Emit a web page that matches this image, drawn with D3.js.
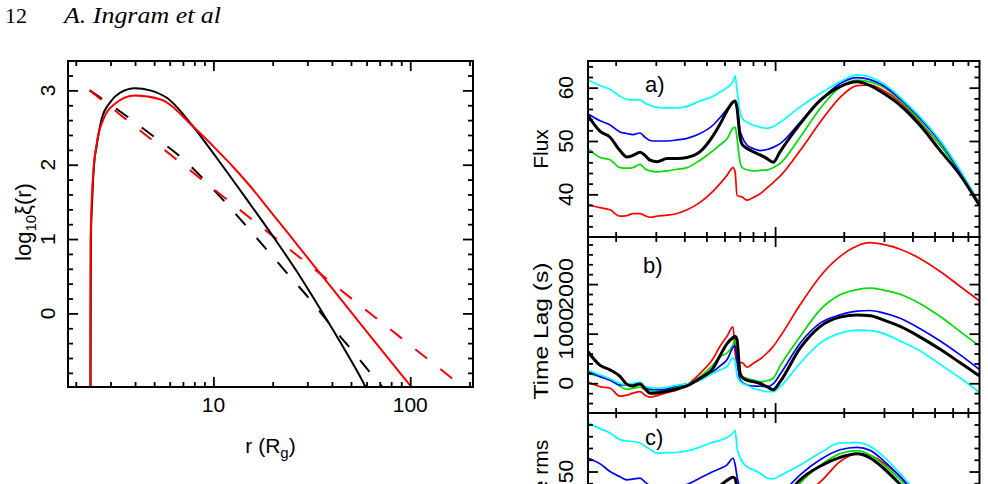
<!DOCTYPE html>
<html>
<head>
<meta charset="utf-8">
<script src="https://cdn.jsdelivr.net/npm/d3@7"></script>
<style>
  body { margin: 0; background: #fff; }
  svg { display: block; font-family: "Liberation Sans", Arial, sans-serif; }
  .serif { font-family: "Liberation Serif", "DejaVu Serif", serif; }
</style>
</head>
<body>
<div id="chart"></div>
<script>
// ---------- left panel: log10 xi(r) against r, [r, log xi] pairs
const solidBlack = [[2.376, -1.0], [2.380, 0.0], [2.385, 1.0], [2.42, 1.5], [2.475, 2.0], [2.55, 2.25], [2.71, 2.62],
    [2.99, 2.84], [3.36, 2.97], [4.00, 3.03], [4.77, 3.00], [5.80, 2.90], [7.91, 2.51], [10.4, 2.09], [14.8, 1.53],
    [21.8, 0.90], [26.6, 0.56], [32.2, 0.21], [39.2, -0.16], [47.7, -0.54], [59.0, -0.98], [62.0, -1.1]];
const solidRed = [[2.370, -1.0], [2.372, 0.0], [2.378, 1.0], [2.44, 1.8], [2.56, 2.3], [2.75, 2.6], [3.16, 2.82],
    [4.00, 2.93], [5.36, 2.88], [7.91, 2.51], [10.4, 2.20], [12.5, 1.98], [15.4, 1.71], [19.4, 1.38], [26.0, 0.96],
    [39.2, 0.37], [57.9, -0.19], [85.6, -0.75], [102, -1.0], [106, -1.06]];
const dashedBlack = [[2.35, 3.0], [3.77, 2.62], [4.48, 2.47], [6.91, 2.09], [10.9, 1.56], [16.9, 0.99], [24.6, 0.49],
    [31.6, 0.16], [40.0, -0.18], [51.5, -0.52], [65.0, -0.85], [72.8, -1.0]];
const dashedRed = [[2.35, 3.0], [25.5, 0.82], [200, -1.06]];

const leftXMajor = [10, 100];
const leftXMinor = [2, 3, 4, 5, 6, 7, 8, 9, 20, 30, 40, 50, 60, 70, 80, 90, 200];
const leftYLabels = [0, 1, 2, 3];

// ---------- right panels: shared energy grid
const energy = [0.151, 0.171, 0.189, 0.209, 0.224, 0.238, 0.256, 0.269, 0.283, 0.304, 0.336, 0.372, 0.411, 0.469,
    0.535, 0.574, 0.616, 0.654, 0.668, 0.681, 0.702, 0.717, 0.754, 0.801, 0.860, 0.922, 0.980, 1.052, 1.287, 1.575,
    1.928, 2.289, 2.610, 2.977, 3.534, 4.325, 5.293, 6.478, 7.848];

// a) flux
const fluxCyan = [61.5, 60.4, 59.7, 58.4, 57.8, 57.7, 57.7, 57.1, 56.7, 56.3, 56.2, 56.2, 56.5, 57.5, 58.4, 59.2, 60.0,
    61.2, 62.2, 59.5, 55.5, 54.3, 53.5, 53.0, 52.6, 52.4, 52.7, 53.5, 56.4, 58.9, 61.1, 62.4, 62.0, 60.8, 58.2, 54.5,
    50.1, 44.5, 38.4];
const fluxBlue = [55.1, 53.8, 53.0, 51.7, 51.4, 51.2, 51.5, 50.7, 50.1, 50.0, 50.0, 50.2, 50.5, 51.4, 53.0, 54.4, 56.0,
    57.2, 57.5, 56.4, 52.0, 50.8, 49.2, 48.6, 48.2, 48.4, 48.8, 49.5, 53.5, 57.6, 60.8, 61.9, 61.5, 60.4, 57.9, 54.2,
    49.8, 44.2, 38.3];
const fluxBlack = [54.8, 51.8, 50.7, 48.2, 47.0, 47.3, 47.9, 47.3, 46.4, 46.1, 46.7, 46.7, 46.9, 48.0, 51.0, 53.2, 55.7,
    57.3, 57.5, 56.2, 50.7, 49.4, 48.6, 48.0, 47.4, 46.7, 46.0, 48.0, 53.2, 57.6, 60.2, 61.1, 60.4, 59.0, 56.7, 52.9,
    48.2, 43.6, 38.0];
const fluxGreen = [48.6, 46.9, 46.5, 45.0, 44.9, 45.0, 45.6, 44.8, 44.4, 44.2, 44.4, 44.7, 45.0, 46.4, 48.2, 49.3, 50.4,
    52.4, 52.6, 50.5, 46.0, 45.0, 44.6, 44.4, 44.5, 44.6, 45.0, 45.8, 50.7, 56.1, 60.1, 61.4, 61.1, 60.1, 57.6, 53.7,
    49.2, 43.9, 38.2];
const fluxRed = [38.1, 37.5, 37.1, 35.9, 36.0, 36.4, 36.4, 36.0, 35.7, 35.9, 36.1, 36.4, 37.1, 38.5, 40.6, 42.0, 43.6,
    45.0, 44.2, 39.8, 39.6, 39.5, 38.9, 39.4, 40.1, 41.2, 42.2, 43.4, 48.2, 53.5, 58.2, 60.4, 60.5, 59.5, 57.3, 53.4,
    49.2, 44.2, 38.3];

// b) time lag (s)
const lagRed = [30, -70, -100, -260, -240, -200, -170, -240, -280, -250, -190, -135, -34, 200, 500, 750, 950, 1140, 600,
    420, 416, 416, 323, 400, 490, 610, 739, 941, 1582, 2154, 2558, 2770, 2835, 2800, 2704, 2513, 2255, 1952, 1665];
const lagGreen = [202, 133, 80, -60, -121, -100, -80, -125, -150, -170, -130, -80, -30, 133, 370, 537, 610, 774, 875,
    450, 200, 133, 100, 67, 32, 50, 101, 350, 941, 1481, 1784, 1890, 1919, 1880, 1795, 1604, 1345, 1042, 755];
const lagBlue = [235, 133, 60, -34, -34, -15, -10, -101, -120, -135, -110, -50, -14, 67, 235, 350, 478, 720, 760, 420,
    67, 20, -34, -55, -60, -69, -14, 180, 808, 1212, 1380, 1455, 1467, 1420, 1312, 1099, 851, 572, 280];
const lagCyan = [269, 168, 90, -5, -34, 0, 25, -69, -85, -101, -80, -40, -14, 67, 202, 270, 340, 505, 450, 150, 40, 0,
    -40, -101, -140, -170, -170, -69, 404, 808, 1010, 1070, 1063, 1005, 850, 650, 380, 105, -180];
const lagBlack = [640, 360, 270, 140, -20, -55, -14, -110, -202, -195, -160, -110, -55, 101, 303, 560, 800, 920, 941,
    875, 202, 120, 60, 32, -5, -70, -130, 32, 707, 1143, 1333, 1375, 1360, 1280, 1145, 931, 684, 412, 150];

// c) rms (only the top of this panel is on the page)
const rmsCyan = [91.4, 86.5, 82.8, 77.1, 76.0, 75.5, 74.3, 71.5, 69.0, 65.7, 66.0, 66.2, 67.5, 70.8, 75.0, 76.5, 79.0,
    82.8, 85.0, 70.0, 62.0, 58.5, 54.0, 51.5, 48.6, 44.5, 43.8, 46.5, 55.5, 65.7, 74.3, 74.6, 71.5, 63.1, 48.2, 28, 5,
    -20, -45];
const rmsBlue = [61.5, 56.5, 50.0, 45.5, 42.9, 43.5, 44.4, 41.0, 38, 36, 35, 36, 39, 44.5, 50.0, 52.5, 55.7, 61.3, 56,
    45.7, 36, 32, 28, 26, 25, 24, 25, 30, 47.2, 60.0, 68.5, 70.6, 68.0, 59.5, 45.5, 25, 2, -22, -45];
const rmsBlack = [30, 27, 25, 22, 20, 21, 21.5, 20, 19, 18.5, 19, 19.5, 21, 27, 35, 38, 42.5, 45.2, 44, 36, 28, 25, 22,
    19, 17, 15, 15, 22, 42.9, 54.5, 62, 65.1, 61.5, 53, 39, 20, -2, -25, -48];
const rmsGreen = [25, 22, 20, 17, 16, 16.5, 17, 15.5, 14.5, 14, 14.5, 15, 17, 21, 27, 31, 34, 37, 35, 22, 14, 11, 9, 8,
    8, 8, 10, 18, 40, 55, 65.2, 67.7, 64, 56, 43, 22, 0, -23, -46];
const rmsRed = [5, 3, 2, -2, -2, -1, -1, -2, -3, -3, -2, -1, 2, 7, 14, 18, 22, 25, 23, 12, 10, 9, 8, 10, 12, 15, 18, 22,
    30, 41, 58.5, 65.1, 63.8, 57.5, 46, 25, 3, -20, -44];

const rightXMajor = [1];
const rightXMinor = [0.2, 0.3, 0.4, 0.5, 0.6, 0.7, 0.8, 0.9, 2, 3, 4, 5, 6, 7];
const fluxLabels = [40, 50, 60];
const lagLabels = [0, 1000, 2000];
const rmsLabels = [0, 50];

const colours = {red: '#ff0000', green: '#00dd00', blue: '#0000ff', cyan: '#00ffff', black: '#000000'};

const W = 988, H = 484;
const svg = d3.select('#chart').append('svg')
    .attr('width', W)
    .attr('height', H);

// page header
svg.append('text')
    .attr('class', 'serif')
    .attr('x', 5).attr('y', 23)
    .style('font-size', '22px')
    .text('12');
svg.append('text')
    .attr('class', 'serif')
    .attr('x', 64).attr('y', 23)
    .style('font-size', '23px')
    .style('font-style', 'italic')
    .attr('textLength', 157)
    .attr('lengthAdjust', 'spacingAndGlyphs')
    .text('A. Ingram et al');

// draws inward ticks on one side of a box
function tickRow(g, axisFn, scale, values, len, tx, ty) {
    g.append('g')
        .attr('transform', `translate(${tx},${ty})`)
        .call(axisFn(scale).tickValues(values).tickSize(-len).tickFormat(''))
        .call(a => a.select('.domain').remove())
        .selectAll('line')
        .attr('stroke', '#000')
        .attr('stroke-width', 1.8);
}

// ================= LEFT PANEL =================
const L = {x0: 68, x1: 473, y0: 61, y1: 387};
const xL = d3.scaleLog().domain([1.825, 208.4]).range([L.x0, L.x1]);
const yL = d3.scaleLinear().domain([-0.99, 3.395]).range([L.y1, L.y0]);
const yLMinor = d3.range(-0.8, 3.3, 0.2).filter(v => Math.abs(v - Math.round(v)) > 0.01);

svg.append('clipPath').attr('id', 'clipL')
    .append('rect')
    .attr('x', L.x0).attr('y', L.y0)
    .attr('width', L.x1 - L.x0).attr('height', L.y1 - L.y0);

const lineL = d3.line()
    .x(d => xL(d[0]))
    .y(d => yL(d[1]))
    .curve(d3.curveMonotoneX);

const curvesL = svg.append('g').attr('clip-path', 'url(#clipL)');
[[dashedBlack, colours.black, true], [dashedRed, colours.red, true],
 [solidBlack, colours.black, false], [solidRed, colours.red, false]].forEach(([d, c, dashed]) => {
    curvesL.append('path')
        .datum(d)
        .attr('d', lineL)
        .attr('fill', 'none')
        .attr('stroke', c)
        .attr('stroke-width', 2)
        .attr('stroke-dasharray', dashed ? '15,17' : null);
});

const axL = svg.append('g');
tickRow(axL, d3.axisBottom, xL, leftXMajor, 10, 0, L.y1);
tickRow(axL, d3.axisBottom, xL, leftXMinor, 5, 0, L.y1);
tickRow(axL, d3.axisTop, xL, leftXMajor, 10, 0, L.y0);
tickRow(axL, d3.axisTop, xL, leftXMinor, 5, 0, L.y0);
tickRow(axL, d3.axisLeft, yL, leftYLabels, 10, L.x0, 0);
tickRow(axL, d3.axisLeft, yL, yLMinor, 5, L.x0, 0);
tickRow(axL, d3.axisRight, yL, leftYLabels, 10, L.x1, 0);
tickRow(axL, d3.axisRight, yL, yLMinor, 5, L.x1, 0);

svg.append('rect')
    .attr('x', L.x0).attr('y', L.y0)
    .attr('width', L.x1 - L.x0).attr('height', L.y1 - L.y0)
    .attr('fill', 'none')
    .attr('stroke', '#000')
    .attr('stroke-width', 2);

svg.selectAll('.xlabL')
    .data(leftXMajor)
    .join('text')
    .attr('x', d => xL(d))
    .attr('y', L.y1 + 25)
    .attr('text-anchor', 'middle')
    .style('font-size', '21px')
    .text(d => d);

svg.selectAll('.ylabL')
    .data(leftYLabels)
    .join('text')
    .attr('transform', d => `translate(55,${yL(d)}) rotate(-90)`)
    .attr('text-anchor', 'middle')
    .style('font-size', '21px')
    .text(d => d);

// axis titles
const xTitle = svg.append('text')
    .attr('x', (L.x0 + L.x1) / 2)
    .attr('y', 453)
    .attr('text-anchor', 'middle')
    .style('font-size', '21px');
xTitle.append('tspan').text('r (R');
xTitle.append('tspan').attr('dy', 5).style('font-size', '15px').text('g');
xTitle.append('tspan').attr('dy', -5).text(')');

const yTitle = svg.append('text')
    .attr('transform', `translate(31,${(L.y0 + L.y1) / 2 - 2}) rotate(-90)`)
    .attr('text-anchor', 'middle')
    .style('font-size', '22px');
yTitle.append('tspan').text('log');
yTitle.append('tspan').attr('dy', 5).style('font-size', '15px').text('10');
yTitle.append('tspan').attr('dy', -5).text('ξ(r)');

// ================= RIGHT PANELS =================
const R = {x0: 588, x1: 979.5};
const xR = d3.scaleLog().domain([0.1513, 7.87]).range([R.x0, R.x1]);

// the lag panel's rotated texts are drawn stretched along their length in the original
const panels = [
    {name: 'a)', title: 'Flux', y0: 61, y1: 237, domain: [32, 65], labels: fluxLabels, minorStep: 2,
        series: [fluxRed, fluxGreen, fluxBlue, fluxCyan, fluxBlack], letterX: 645, letterY: 92,
        titleShift: 0, titleLen: null, labelLen: null},
    {name: 'b)', title: 'Time Lag (s)', y0: 237, y1: 413, domain: [-600, 2950], labels: lagLabels, minorStep: 200,
        series: [lagRed, lagGreen, lagBlue, lagCyan, lagBlack], letterX: 643, letterY: 273,
        titleShift: 6, titleLen: 137, labelLen: 13},
    {name: 'c)', title: 'Absolute rms', y0: 413, y1: 589, domain: [-50, 99.8], labels: rmsLabels, minorStep: 10,
        series: [rmsRed, rmsGreen, rmsBlue, rmsCyan, rmsBlack], letterX: 645, letterY: 445,
        titleShift: 0, titleLen: null, labelLen: null},
];
const seriesColours = [colours.red, colours.green, colours.blue, colours.cyan, colours.black];

panels.forEach((p, i) => {
    const y = d3.scaleLinear().domain(p.domain).range([p.y1, p.y0]);
    const g = svg.append('g');

    g.append('clipPath').attr('id', 'clipR' + i)
        .append('rect')
        .attr('x', R.x0).attr('y', p.y0)
        .attr('width', R.x1 - R.x0).attr('height', p.y1 - p.y0);

    const line = d3.line()
        .x((d, j) => xR(energy[j]))
        .y(d => y(d))
        .curve(d3.curveMonotoneX);

    const curves = g.append('g').attr('clip-path', `url(#clipR${i})`);
    p.series.forEach((s, k) => {
        curves.append('path')
            .datum(s)
            .attr('d', line)
            .attr('fill', 'none')
            .attr('stroke', seriesColours[k])
            .attr('stroke-width', k === 4 ? 3 : 1.7)
            .attr('stroke-linejoin', 'round');
    });

    // ticks, all pointing into the box
    const minor = d3.range(p.domain[0], p.domain[1], p.minorStep)
        .map(v => Math.ceil(v / p.minorStep) * p.minorStep)
        .filter(v => v > p.domain[0] && v < p.domain[1] && !p.labels.includes(v));
    tickRow(g, d3.axisBottom, xR, rightXMajor, 10, 0, p.y1);
    tickRow(g, d3.axisBottom, xR, rightXMinor, 5, 0, p.y1);
    tickRow(g, d3.axisTop, xR, rightXMajor, 10, 0, p.y0);
    tickRow(g, d3.axisTop, xR, rightXMinor, 5, 0, p.y0);
    tickRow(g, d3.axisLeft, y, p.labels.filter(v => v > p.domain[0]), 10, R.x0, 0);
    tickRow(g, d3.axisLeft, y, minor, 5, R.x0, 0);
    tickRow(g, d3.axisRight, y, p.labels.filter(v => v > p.domain[0]), 10, R.x1, 0);
    tickRow(g, d3.axisRight, y, minor, 5, R.x1, 0);

    g.append('rect')
        .attr('x', R.x0).attr('y', p.y0)
        .attr('width', R.x1 - R.x0).attr('height', p.y1 - p.y0)
        .attr('fill', 'none')
        .attr('stroke', '#000')
        .attr('stroke-width', 2);

    const labs = g.selectAll('.ylab')
        .data(p.labels)
        .join('text')
        .attr('transform', d => `translate(573,${y(d)}) rotate(-90)`)
        .attr('text-anchor', 'middle')
        .style('font-size', '21px')
        .text(d => d);
    if (p.labelLen) {
        labs.attr('textLength', d => String(d).length * p.labelLen)
            .attr('lengthAdjust', 'spacingAndGlyphs');
    }

    const title = g.append('text')
        .attr('transform', `translate(548,${(p.y0 + p.y1) / 2 + p.titleShift}) rotate(-90)`)
        .attr('text-anchor', 'middle')
        .style('font-size', '21px')
        .text(p.title);
    if (p.titleLen) {
        title.attr('textLength', p.titleLen).attr('lengthAdjust', 'spacingAndGlyphs');
    }

    g.append('text')
        .attr('x', p.letterX)
        .attr('y', p.letterY)
        .style('font-size', '22px')
        .text(p.name);
});
</script>
</body>
</html>
